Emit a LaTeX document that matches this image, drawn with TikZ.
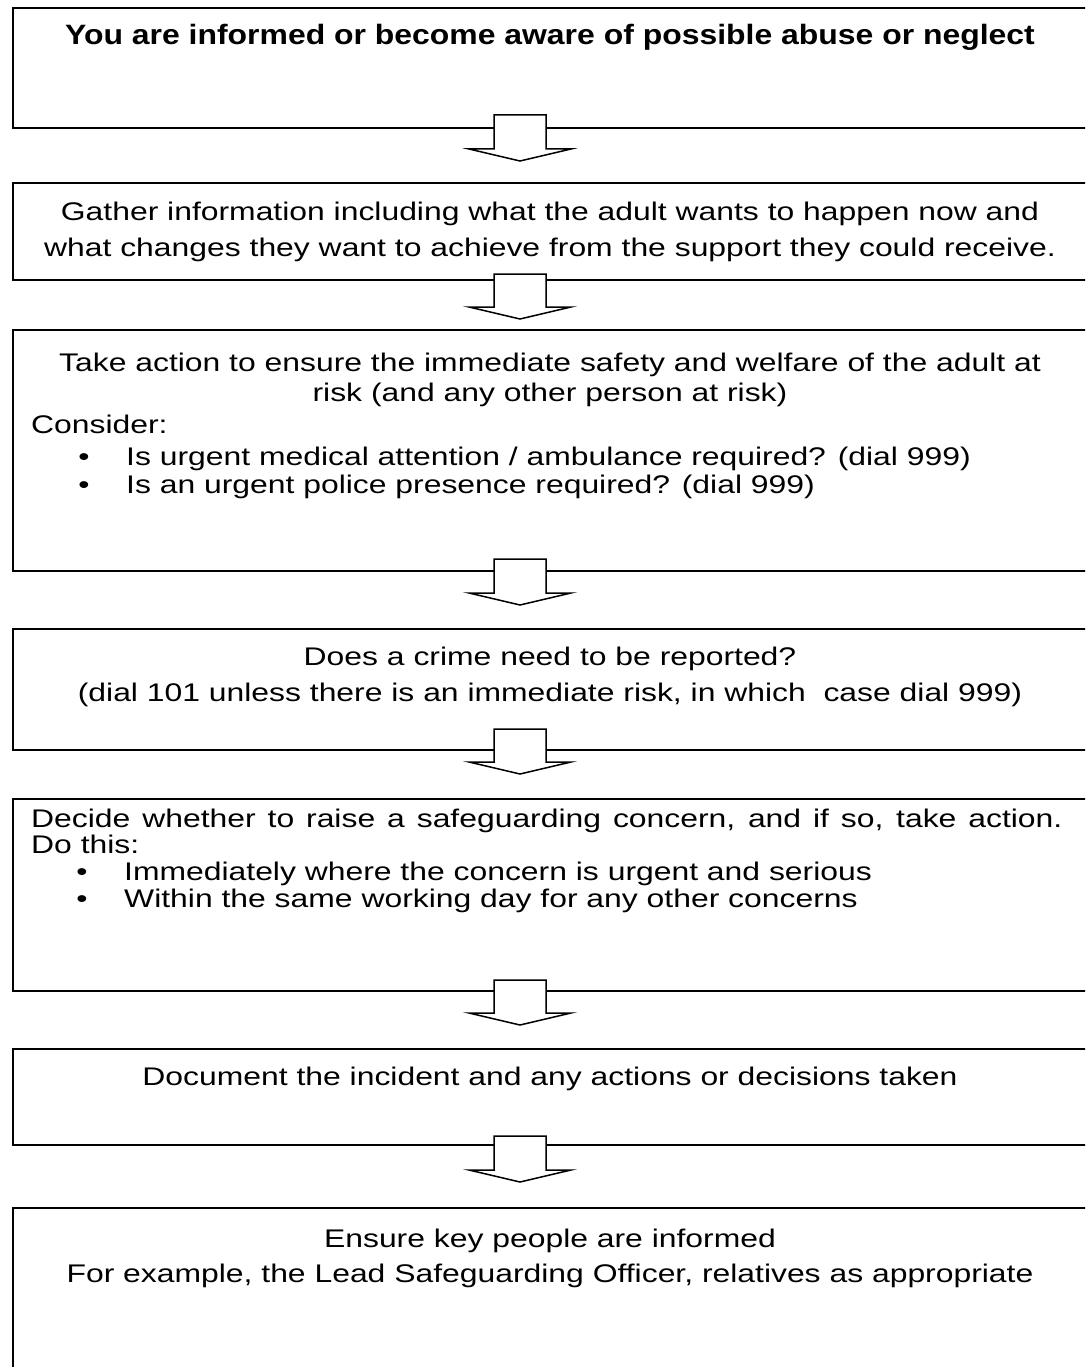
\documentclass[tikz,border=0pt]{standalone}
\usepackage{fontspec}
\setmainfont{Liberation Sans}
\usetikzlibrary{calc}
\newcommand{\hw}[1]{\scalebox{1.25}[1]{#1}}
\newcommand{\hwb}[1]{\scalebox{1.14}[1]{#1}}
\newcommand{\blockarr}[4]{%
  \coordinate (#1#2T) at ($(#1.south)+(-31,-#3)$);
  \coordinate (#1#2P) at ($(#2.north)+(-31,-#4)$);
  \draw[barrow] ($(#1#2T)+(-26,0)$) -- ($(#1#2T)+(26,0)$) -- ($(#1#2P)+(26,-12)$)
    -- ($(#1#2P)+(51,-12)$) -- (#1#2P) -- ($(#1#2P)+(-51,-12)$)
    -- ($(#1#2P)+(-26,-12)$) -- cycle;
}
\begin{document}
\begin{tikzpicture}[x=1pt,y=-1pt,
  box/.style={draw, line width=2pt, minimum width=1076pt, anchor=north west, inner sep=0pt},
  barrow/.style={draw, fill=white, line width=1.5pt, line join=miter},
  txt/.style={anchor=base, inner sep=0pt, font=\fontsize{25.5}{30}\selectfont},
  btxt/.style={anchor=base, inner sep=0pt, font=\fontsize{28}{32}\selectfont\bfseries},
  ltxt/.style={txt, anchor=base west},
  bul/.style={txt, anchor=base}]
\useasboundingbox (0,0) rectangle (1085,1367);
\clip (0,0) rectangle (1085,1367);
\fill[white] (0,0) rectangle (1085,1367);
% boxes
\node[box, minimum height=120pt] (b1) at (12,7) {};
\node[box, minimum height=97pt] (b2) at (12,182) {};
\node[box, minimum height=241pt] (b3) at (12,329) {};
\node[box, minimum height=121pt] (b4) at (12,628) {};
\node[box, minimum height=192pt] (b5) at (12,798) {};
\node[box, minimum height=96pt] (b6) at (12,1048) {};
\node[box, minimum height=200pt] (b7) at (12,1207) {};
% texts
\node[btxt] (t1) at (550,45) {\hwb{You are informed or become aware of possible abuse or neglect}};
\node[txt] (t2a) at (550,220) {\hw{Gather information including what the adult wants to happen now and}};
\node[txt] (t2b) at (550,256) {\hw{what changes they want to achieve from the support they could receive.}};
\node[txt] (t3a) at (550,371) {\hw{Take action to ensure the immediate safety and welfare of the adult at}};
\node[txt] (t3b) at (550,401) {\hw{risk (and any other person at risk)}};
\node[ltxt] (t3c) at (31,433) {\hw{Consider:}};
\node[bul] (t3d) at (84,465) {\hw{•}};
\node[ltxt] (t3e) at (126,465) {\hw{Is urgent medical attention / ambulance required? (dial 999)}};
\node[bul] (t3f) at (84,493) {\hw{•}};
\node[ltxt] (t3g) at (126,493) {\hw{Is an urgent police presence required? (dial 999)}};
\node[txt] (t4a) at (550,665) {\hw{Does a crime need to be reported?}};
\node[txt] (t4b) at (550,701) {\hw{(dial 101 unless there is an immediate risk, in which\ \ case dial 999)}};
\node[ltxt] (t5a) at (31,827) {\hw{\makebox[825pt][s]{Decide whether to raise a safeguarding concern, and if so, take action.}}};
\node[ltxt] (t5b) at (31,853) {\hw{Do this:}};
\node[bul] (t5c) at (82,880) {\hw{•}};
\node[ltxt] (t5d) at (124,880) {\hw{Immediately where the concern is urgent and serious}};
\node[bul] (t5e) at (82,907) {\hw{•}};
\node[ltxt] (t5f) at (124,907) {\hw{Within the same working day for any other concerns}};
\node[txt] (t6) at (550,1085) {\hw{Document the incident and any actions or decisions taken}};
\node[txt] (t7a) at (550,1247) {\hw{Ensure key people are informed}};
\node[txt] (t7b) at (550,1282) {\hw{For example, the Lead Safeguarding Officer, relatives as appropriate}};
% arrows
\blockarr{b1}{b2}{14}{21}
\blockarr{b2}{b3}{7}{10}
\blockarr{b3}{b4}{13}{23}
\blockarr{b4}{b5}{22}{24}
\blockarr{b5}{b6}{12}{23}
\blockarr{b6}{b7}{10}{25}
\end{tikzpicture}
\end{document}
